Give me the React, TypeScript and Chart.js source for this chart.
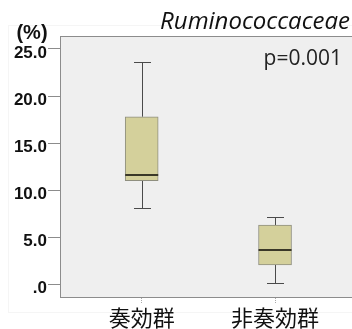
import React, { useEffect, useRef } from 'react';
import { Chart, registerables } from 'chart.js';

Chart.register(...registerables);

const categories = ['奏効群', '非奏効群'];
const positions = [1, 2];
const whiskerLow = [8.1, 0.1];
const q1 = [11.0, 2.05];
const median = [11.6, 3.6];
const q3 = [17.8, 6.3];
const whiskerHigh = [23.6, 7.2];
const yTicks = [0, 5, 10, 15, 20, 25];
const titleText = 'Ruminococcaceae';
const pText = 'p=0.001';
const unitText = '(%)';

const boxPlugin = {
  id: 'boxplotExtras',
  beforeDraw(chart: any) {
    const { ctx, chartArea: a } = chart;
    ctx.save();
    ctx.strokeStyle = '#f5f5f5';
    ctx.lineWidth = 1;
    ctx.strokeRect(8.5, 25.5, 400, 287);
    ctx.fillStyle = '#efefef';
    ctx.fillRect(a.left, a.top, a.right - a.left, a.bottom - a.top);
    ctx.strokeStyle = '#8c8c8c';
    ctx.strokeRect(a.left + 0.5, a.top + 0.5, a.right - a.left - 1, a.bottom - a.top - 1);
    ctx.restore();
  },
  beforeDatasetsDraw(chart: any) {
    const { ctx } = chart;
    const xs = chart.scales.x;
    const ys = chart.scales.y;
    ctx.save();
    ctx.strokeStyle = '#4a4a4a';
    ctx.lineWidth = 1;
    positions.forEach((p, i) => {
      const x = Math.round(xs.getPixelForValue(p)) + 0.5;
      const yl = Math.round(ys.getPixelForValue(whiskerLow[i])) + 0.5;
      const yh = Math.round(ys.getPixelForValue(whiskerHigh[i])) + 0.5;
      const y1 = ys.getPixelForValue(q1[i]);
      const y3 = ys.getPixelForValue(q3[i]);
      ctx.beginPath();
      ctx.moveTo(x, yh);
      ctx.lineTo(x, y3);
      ctx.moveTo(x, y1);
      ctx.lineTo(x, yl);
      ctx.moveTo(x - 8.5, yh);
      ctx.lineTo(x + 8.5, yh);
      ctx.moveTo(x - 8.5, yl);
      ctx.lineTo(x + 8.5, yl);
      ctx.stroke();
    });
    ctx.restore();
  },
  afterDatasetsDraw(chart: any) {
    const { ctx } = chart;
    const xs = chart.scales.x;
    const ys = chart.scales.y;
    ctx.save();
    ctx.strokeStyle = '#3a3828';
    ctx.lineWidth = 2;
    positions.forEach((p, i) => {
      const x = xs.getPixelForValue(p);
      const ym = Math.round(ys.getPixelForValue(median[i]));
      ctx.beginPath();
      ctx.moveTo(x - 16.5, ym);
      ctx.lineTo(x + 16.5, ym);
      ctx.stroke();
    });
    ctx.restore();
  },
  afterDraw(chart: any) {
    const { ctx } = chart;
    ctx.save();
    ctx.fillStyle = '#111111';
    ctx.textBaseline = 'alphabetic';
    ctx.font = 'italic 24px "Open Sans"';
    ctx.textAlign = 'right';
    ctx.fillText(titleText, 350, 28.5);
    ctx.font = '21px "Open Sans"';
    ctx.fillStyle = '#222222';
    ctx.fillText(pText, 342, 64.5);
    ctx.font = 'bold 20px "Liberation Sans"';
    ctx.textAlign = 'center';
    ctx.fillStyle = '#111111';
    ctx.fillText(unitText, 32, 39);
    ctx.restore();
  },
};

export default function App() {
  const ref = useRef<HTMLCanvasElement>(null);
  useEffect(() => {
    if (!ref.current) return;
    const chart = new Chart(ref.current, {
      type: 'bar',
      data: {
        datasets: [
          {
            data: positions.map((p, i) => ({ x: p, y: [q1[i], q3[i]] })) as any,
            backgroundColor: '#d4d09b',
            borderColor: '#8f8f7f',
            borderWidth: 1,
            borderSkipped: false,
            barThickness: 33,
          },
        ],
      },
      options: {
        animation: false,
        responsive: false,
        devicePixelRatio: 1,
        layout: { padding: { top: 36, left: 0, right: 0, bottom: 0 } },
        plugins: { legend: { display: false }, tooltip: { enabled: false }, title: { display: false } },
        scales: {
          x: {
            type: 'linear',
            offset: false,
            min: 0.3873,
            max: 2.6373,
            afterBuildTicks: (s: any) => {
              s.ticks = positions.map((v) => ({ value: v }));
            },
            ticks: {
              callback: (v: any) => {
                const idx = positions.indexOf(Number(v));
                return idx >= 0 ? categories[idx] : '';
              },
              font: { family: '"Noto Sans CJK JP"', size: 22 },
              color: '#111111',
              padding: 0,
              maxRotation: 0,
              autoSkip: false,
            },
            grid: { offset: false, drawOnChartArea: false, tickLength: 6, color: '#aaaaaa', tickBorderDash: [1, 1] },
            border: { display: false },
            afterFit: (s: any) => {
              s.height = 31;
            },
          },
          y: {
            type: 'linear',
            min: -1.456,
            max: 26.38,
            afterBuildTicks: (s: any) => {
              s.ticks = yTicks.map((v) => ({ value: v }));
            },
            ticks: {
              callback: (v: any) => (Number(v) === 0 ? '.0' : Number(v).toFixed(1)),
              font: { family: '"Liberation Sans"', size: 17, weight: 'bold' },
              color: '#111111',
              padding: 1,
              labelOffset: 4,
            },
            grid: { drawOnChartArea: false, tickLength: 12, color: '#8c8c8c' },
            border: { display: false },
            afterFit: (s: any) => {
              s.width = 60;
            },
          },
        },
      } as any,
      plugins: [boxPlugin],
    });
    return () => chart.destroy();
  }, []);
  return (
    <div style={{ position: 'absolute', left: 0, top: 0, width: 352, height: 329, overflow: 'hidden', background: '#fff' }}>
      <canvas ref={ref} width={360} height={329} style={{ display: 'block', width: 360, height: 329 }} />
    </div>
  );
}
